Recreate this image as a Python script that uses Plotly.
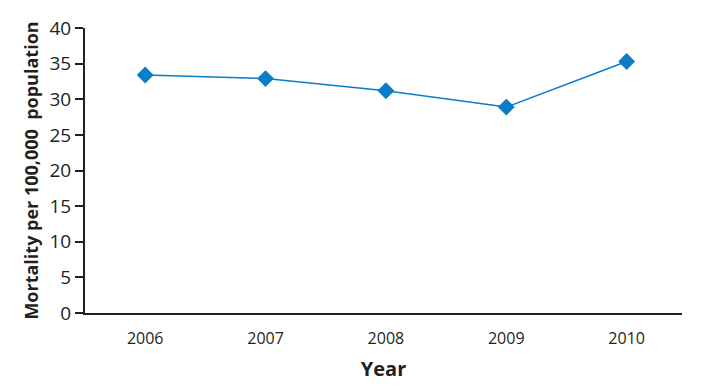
import plotly.graph_objects as go

years = ["2006", "2007", "2008", "2009", "2010"]
mortality = [33.4, 32.9, 31.2, 28.9, 35.3]
y_ticks = [0, 5, 10, 15, 20, 25, 30, 35, 40]

fig = go.Figure()
fig.add_trace(go.Scatter(
    x=years, y=mortality, mode="lines+markers",
    line=dict(color="#0a7dc8", width=1.5),
    marker=dict(symbol="diamond", size=13, color="#0a7dc8"),
))
fig.update_layout(
    width=708, height=388,
    margin=dict(l=85, r=26, t=28, b=75),
    plot_bgcolor="white", paper_bgcolor="white",
    showlegend=False,
    font=dict(family="Open Sans, Noto Sans, sans-serif", color="#231f20"),
)
fig.update_xaxes(
    type="category", range=[-0.5, 4.46], showline=True, linecolor="#231f20", linewidth=2,
    showgrid=False, ticks="", tickfont=dict(size=16), automargin=False,
    ticklabelstandoff=10,
    title=dict(text="<b>Year</b>", font=dict(size=20), standoff=14),
)
fig.update_yaxes(
    range=[0, 40], tickvals=y_ticks, showline=True, linecolor="#231f20", linewidth=2,
    showgrid=False, zeroline=False, ticks="outside", ticklen=8, tickwidth=1.5, tickcolor="#231f20",
    tickfont=dict(size=19), automargin=False,
    title=dict(text="<b>Mortality per 100,000  population</b>", font=dict(size=18), standoff=6),
)
fig.write_html(
    "out.html",
    config={"displayModeBar": False},
    post_script="document.body.style.margin='0';document.body.style.overflow='hidden';",
)
